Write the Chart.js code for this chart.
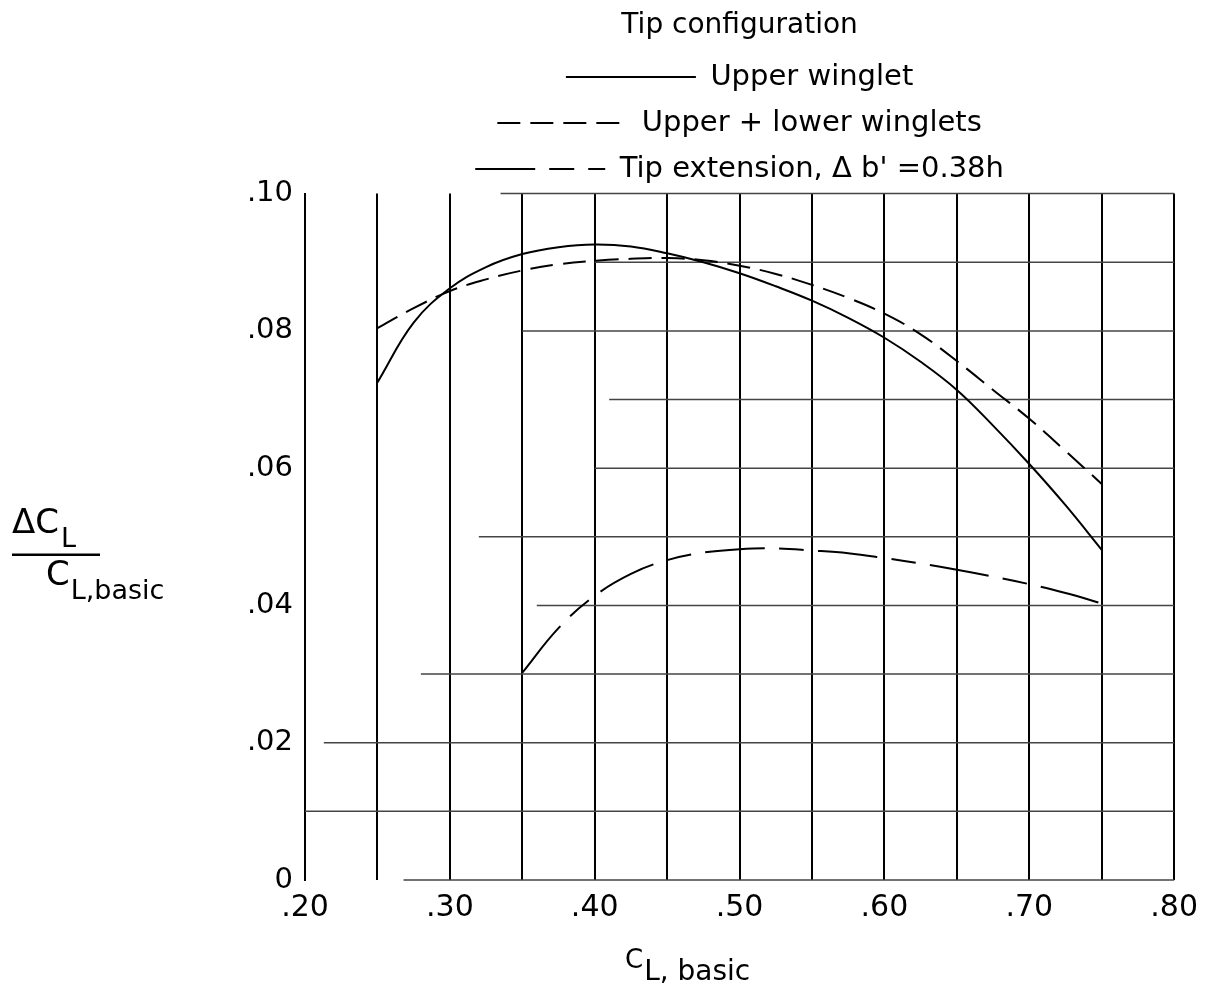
<!DOCTYPE html>
<html>
<head>
<meta charset="utf-8">
<script src="https://cdn.jsdelivr.net/npm/chart.js@4.4.0/dist/chart.umd.min.js"></script>
<style>
  html, body { margin: 0; padding: 0; background: #fff; }
  #wrap { width: 1208px; height: 1003px; }
</style>
</head>
<body>
<div id="wrap"><canvas id="chart"></canvas></div>
<script>
// C_L,basic stations
const clBasic = [0.25, 0.275, 0.30, 0.325, 0.35, 0.375, 0.40, 0.425, 0.45, 0.475, 0.50,
                 0.525, 0.55, 0.575, 0.60, 0.625, 0.65, 0.675, 0.70, 0.725, 0.75];
const upperWinglet = [0.0725, 0.0812, 0.0862, 0.0893, 0.0912, 0.0922, 0.0926, 0.0923, 0.0913, 0.0900, 0.0884,
                      0.0865, 0.0844, 0.0819, 0.0790, 0.0755, 0.0714, 0.0662, 0.0606, 0.0546, 0.0481];
const upperLowerWinglets = [0.0804, 0.0833, 0.0858, 0.0875, 0.0888, 0.0897, 0.0902, 0.0905, 0.0906, 0.0903, 0.0895,
                            0.0883, 0.0867, 0.0848, 0.0825, 0.0795, 0.0756, 0.0714, 0.0672, 0.0625, 0.0577];
const clBasicTip = [0.35, 0.375, 0.40, 0.425, 0.45, 0.475, 0.50, 0.525, 0.55, 0.575, 0.60,
                    0.625, 0.65, 0.675, 0.70, 0.725, 0.75];
const tipExtension = [0.0302, 0.0367, 0.0414, 0.0446, 0.0466, 0.0477, 0.0482, 0.0483, 0.0480, 0.0476, 0.0469,
                      0.0461, 0.0452, 0.0442, 0.0431, 0.0418, 0.0403];

const seriesNames = ['Upper winglet', 'Upper + lower winglets', "Tip extension, \u0394 b' =0.38h"];

// horizontal rulings of the graph paper: value and where each one starts
const hLines = [0, 0.01, 0.02, 0.03, 0.04, 0.05, 0.06, 0.07, 0.08, 0.09, 0.10];
const hLineFrom = [0.268, 0.20, 0.213, 0.28, 0.36, 0.32, 0.40, 0.41, 0.35, 0.40, 0.335];

const FONT = "'DejaVu Sans', sans-serif";
Chart.defaults.font.family = FONT;
Chart.defaults.color = '#000';

const pts = (xs, ys) => xs.map((x, i) => ({ x: x, y: ys[i] }));

// partial horizontal rulings
const rulings = {
  id: 'rulings',
  beforeDatasetsDraw(chart) {
    const { ctx, chartArea, scales } = chart;
    ctx.save();
    ctx.strokeStyle = '#444';
    ctx.lineWidth = 1.5;
    hLines.forEach((v, i) => {
      const y = scales.y.getPixelForValue(v);
      ctx.beginPath();
      ctx.moveTo(scales.x.getPixelForValue(hLineFrom[i]), y);
      ctx.lineTo(chartArea.right, y);
      ctx.stroke();
    });
    ctx.restore();
  }
};

// axis titles with subscripts
const axisTitles = {
  id: 'axisTitles',
  afterDraw(chart) {
    const { ctx, chartArea } = chart;
    const midY = (chartArea.top + chartArea.bottom) / 2;
    ctx.save();
    ctx.fillStyle = '#000';
    ctx.strokeStyle = '#000';
    ctx.textAlign = 'left';
    ctx.textBaseline = 'alphabetic';

    // y: ΔC_L / C_L,basic
    let x = 12;
    ctx.font = '34px ' + FONT;
    ctx.fillText('\u0394C', x, midY - 4);
    x += ctx.measureText('\u0394C').width + 2;
    ctx.font = '27px ' + FONT;
    ctx.fillText('L', x, midY + 10);
    ctx.lineWidth = 2.5;
    ctx.beginPath();
    ctx.moveTo(12, midY + 18);
    ctx.lineTo(100, midY + 18);
    ctx.stroke();
    x = 46;
    ctx.font = '34px ' + FONT;
    ctx.fillText('C', x, midY + 48);
    x += ctx.measureText('C').width + 1;
    ctx.font = '27px ' + FONT;
    ctx.fillText('L,basic', x, midY + 62);

    // x: C_L, basic
    x = chartArea.left + 320;
    const base = chartArea.bottom + 100;
    ctx.font = '26px ' + FONT;
    ctx.fillText('C', x, base - 12);
    x += ctx.measureText('C').width + 1;
    ctx.font = '28px ' + FONT;
    ctx.fillText('L, basic', x, base);
    ctx.restore();
  }
};

const lineStyle = { borderColor: '#000', backgroundColor: '#000', borderWidth: 2, pointRadius: 0,
                    fill: false, tension: 0.4 };

new Chart(document.querySelector('#chart'), {
  type: 'line',
  data: {
    datasets: [
      Object.assign({ label: seriesNames[0], data: pts(clBasic, upperWinglet) }, lineStyle),
      Object.assign({ label: seriesNames[1], data: pts(clBasic, upperLowerWinglets), borderDash: [23, 10] }, lineStyle),
      Object.assign({ label: seriesNames[2], data: pts(clBasicTip, tipExtension), borderDash: [60, 14, 25, 14] }, lineStyle)
    ]
  },
  options: {
    responsive: true,
    maintainAspectRatio: false,
    animation: false,
    layout: { padding: { left: 200, right: 32, top: 0, bottom: 73 } },
    scales: {
      x: {
        type: 'linear',
        min: 0.20,
        max: 0.80,
        afterFit: (s) => { s.height = 50; },
        ticks: {
          stepSize: 0.05,
          autoSkip: false,
          padding: 10,
          font: { size: 30 },
          color: '#000',
          callback: (v) => {
            const n = Math.round(v * 100);
            return n % 10 === 0 ? '.' + n : '';
          }
        },
        grid: { color: '#000', lineWidth: 2, drawTicks: false },
        border: { display: false }
      },
      y: {
        min: 0,
        max: 0.10,
        afterFit: (s) => { s.width = 105; },
        ticks: {
          stepSize: 0.01,
          padding: 4,
          font: { size: 29 },
          color: '#000',
          callback: (v) => {
            const n = Math.round(v * 100);
            if (n === 0) return '0';
            return n % 2 === 0 ? '.' + String(n).padStart(2, '0') : '';
          }
        },
        grid: { display: false },
        border: { display: true, color: '#000', width: 2 }
      }
    },
    plugins: {
      tooltip: { enabled: false },
      legend: {
        position: 'top',
        fullSize: false,
        align: 'center',
        title: {
          display: true,
          text: 'Tip configuration',
          color: '#000',
          padding: { top: 12, bottom: 0 },
          font: { size: 28 }
        },
        labels: {
          usePointStyle: true,
          pointStyle: 'line',
          pointStyleWidth: 130,
          padding: 17,
          color: '#000',
          font: { size: 29 },
          // keep each series' dash pattern on its legend sample
          generateLabels: (chart) => Chart.defaults.plugins.legend.labels.generateLabels(chart).map((item, i) => {
            item.lineDash = chart.data.datasets[i].borderDash || [];
            item.lineWidth = 2;
            return item;
          })
        }
      }
    }
  },
  plugins: [rulings, axisTitles]
});
</script>
</body>
</html>
